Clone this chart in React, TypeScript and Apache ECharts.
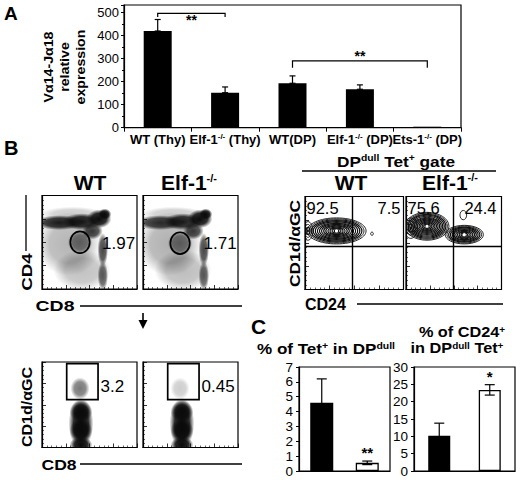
import React, { useEffect, useRef } from "react";
import * as echarts from "echarts";

// ---------- Panel A data ----------
const exprCategories = ["WT (Thy)", "Elf-1-/- (Thy)", "WT(DP)", "Elf-1-/- (DP)", "Ets-1-/- (DP)"];
const exprMeans = [420, 152, 193, 167, 2];
const exprErrors = [50, 25, 32, 19, 0];
const exprMax = 533;
const exprTickStep = 100;
// [fromIndex, toIndex, bracketTop, bracketFoot, starLevel, label]
const exprBrackets: [number, number, number, number, number, string][] = [
  [0, 1, 497, 481, 467, "**"],
  [2, 4, 290, 260, 313, "**"],
];

// ---------- Panel C data ----------
const groups = ["WT", "Elf-1-/-"];
const tetMeans = [4.6, 0.55];
const tetErrors = [1.6, 0.12];
const tetStars = ["", "**"];
const tetTicks = [0, 1, 2, 3, 4, 5, 6, 7];
const cd24Means = [10.2, 23.4];
const cd24Errors = [3.6, 1.5];
const cd24Stars = ["", "*"];
const cd24Ticks = [0, 5, 10, 15, 20, 25, 30];

// ---------- Panel B data (flow cytometry, 0-100 log display scale) ----------
// density blobs: [x, y, radiusX, radiusY, density]
const cd4cd8WT = [
  [28, 48, 34, 34, 0.3],
  [42, 20, 30, 22, 0.25],
  [32, 80, 34, 8, 0.2],
  [18, 71, 26, 8, 0.92],
  [42, 72, 20, 9, 0.95],
  [60, 75, 13, 10, 1],
  [66, 80, 7, 6, 1],
  [53, 62, 11, 9, 0.8],
  [40, 50, 13, 13, 0.55],
  [64, 42, 5.5, 18, 0.75],
  [64, 14, 5.5, 16, 0.65],
];
const cd4cd8Elf = [
  [28, 48, 34, 34, 0.32],
  [42, 20, 30, 22, 0.27],
  [32, 80, 34, 8, 0.2],
  [18, 71, 26, 8, 0.85],
  [42, 72, 20, 9, 0.92],
  [60, 75, 13, 10, 1],
  [66, 80, 7, 6, 1],
  [53, 62, 11, 9, 0.8],
  [39, 49, 13, 13, 0.55],
  [64, 42, 5.5, 18, 0.75],
  [64, 14, 5.5, 16, 0.65],
];
const tetCd8WT = [
  [41, 28, 13, 30, 1],
  [41, 42, 12, 13, 1],
  [41, 20, 12, 14, 1],
  [41, 3, 12, 10, 1],
  [40, 69, 10, 13, 0.55],
];
const tetCd8Elf = [
  [41, 28, 13, 30, 1],
  [41, 42, 12, 13, 1],
  [41, 20, 12, 14, 1],
  [41, 3, 12, 10, 1],
  [39, 69, 10, 13, 0.2],
];
// contours: [x, y, radiusX, radiusY, levels]
const contourWT = [
  [32, 63, 30, 14, 14],
  [3, 63, 5, 10, 4],
  [68, 60, 1.4, 1.7, 1],
];
const contourElf = [
  [22, 68, 23, 15, 14],
  [61, 59, 20, 10, 11],
  [5, 66, 7, 11, 4],
  [60, 80, 3.5, 5, 1],
];
// gates
const ellipseGateWT = [40, 50, 10.2, 11.7];
const ellipseGateElf = [39, 49, 10.2, 11.7];
const ellipseGatePct = ["1.97", "1.71"];
const rectGateWT = [26, 56, 59, 98];
const rectGateElf = [26, 56, 59, 98];
const rectGatePct = ["3.2", "0.45"];
const quadrantWT = [47.5, 47];
const quadrantElf = [49.4, 47];
const quadrantPctWT = ["92.5", "7.5"];
const quadrantPctElf = ["75.6", "24.4"];

const FONT = "'Liberation Sans', Arial, Helvetica, sans-serif";

const supRich = (size: number, lh: number | undefined) => ({
  s: { fontSize: size, fontWeight: "bold", fontFamily: FONT, verticalAlign: "top", fill: "#000", color: "#000", lineHeight: lh },
});

function txt(text: string, x: number, y: number, o: any = {}) {
  const { size = 14, weight = "bold", align = "center", valign = "middle", rotation = 0, scaleX = 1, sup = 9 } = o;
  return {
    type: "text",
    x,
    y,
    rotation,
    scaleX,
    z: 100,
    style: {
      text,
      fontSize: size,
      fontWeight: weight,
      fontFamily: FONT,
      fill: "#000",
      align,
      verticalAlign: valign,
      lineHeight: o.lineHeight,
      rich: supRich(sup, o.lineHeight),
    },
  };
}
function ln(x1: number, y1: number, x2: number, y2: number, w = 1.3) {
  return { type: "line", z: 100, shape: { x1, y1, x2, y2 }, style: { stroke: "#000", lineWidth: w } };
}
const supify = (s: string) => s.replace("-/-", "{s|-/-}");

const flowAxis = (gi: number) => ({
  gridIndex: gi,
  type: "value",
  min: 0,
  max: 100,
  interval: 25,
  axisLine: { show: true, lineStyle: { color: "#000", width: 1.2 } },
  axisTick: { show: true, inside: true, length: 4, lineStyle: { color: "#000", width: 0.8 } },
  minorTick: { show: true, splitNumber: 5, length: 2, lineStyle: { color: "#000", width: 0.6 } },
  axisLabel: { show: false },
  splitLine: { show: false },
});

const blobSeries = (gi: number, data: number[][]) => ({
  type: "custom",
  xAxisIndex: gi,
  yAxisIndex: gi,
  clip: true,
  silent: true,
  z: 2,
  data,
  renderItem: (_p: any, api: any) => {
    const c = api.coord([api.value(0), api.value(1)]);
    const s = api.size([api.value(2), api.value(3)]);
    const a = api.value(4);
    return {
      type: "circle",
      x: c[0],
      y: c[1],
      scaleX: s[0] / 10,
      scaleY: s[1] / 10,
      shape: { cx: 0, cy: 0, r: 10 },
      style: {
        fill: new echarts.graphic.RadialGradient(0.5, 0.5, 0.5, [
          { offset: 0, color: `rgba(10,10,10,${a})` },
          { offset: 0.6, color: `rgba(10,10,10,${a * 0.85})` },
          { offset: 1, color: "rgba(10,10,10,0)" },
        ]),
      },
    };
  },
});

const ellipseGateSeries = (gi: number, g: number[]) => ({
  type: "custom",
  xAxisIndex: gi,
  yAxisIndex: gi,
  silent: true,
  z: 5,
  data: [g],
  renderItem: (_p: any, api: any) => {
    const c = api.coord([api.value(0), api.value(1)]);
    const s = api.size([api.value(2), api.value(3)]);
    return {
      type: "ellipse",
      shape: { cx: c[0], cy: c[1], rx: s[0], ry: s[1] },
      style: { fill: "none", stroke: "#000", lineWidth: 1.7 },
    };
  },
});

const rectGateSeries = (gi: number, g: number[]) => ({
  type: "custom",
  xAxisIndex: gi,
  yAxisIndex: gi,
  silent: true,
  z: 5,
  data: [g],
  renderItem: (_p: any, api: any) => {
    const p1 = api.coord([api.value(0), api.value(3)]);
    const p2 = api.coord([api.value(2), api.value(1)]);
    return {
      type: "rect",
      shape: { x: p1[0], y: p1[1], width: p2[0] - p1[0], height: p2[1] - p1[1] },
      style: { fill: "none", stroke: "#000", lineWidth: 1.7 },
    };
  },
});

const contourSeries = (gi: number, data: number[][], q: number[]) => ({
  type: "custom",
  xAxisIndex: gi,
  yAxisIndex: gi,
  clip: true,
  silent: true,
  z: 3,
  data,
  renderItem: (_p: any, api: any) => {
    const c = api.coord([api.value(0), api.value(1)]);
    const s = api.size([api.value(2), api.value(3)]);
    const n = api.value(4);
    const children: any[] = [];
    for (let k = 0; k < n; k++) {
      const f = n === 1 ? 1 : 1 - 0.92 * (k / (n - 1));
      children.push({
        type: "ellipse",
        shape: { cx: c[0], cy: c[1], rx: s[0] * f, ry: s[1] * f },
        style: { fill: "none", stroke: "#111", lineWidth: k < 2 ? 0.9 : 1.2 },
      });
    }
    if (n > 4) {
      children.push({ type: "ellipse", shape: { cx: c[0], cy: c[1], rx: 1.6, ry: 1.6 }, style: { fill: "#fff" } });
    }
    return { type: "group", children };
  },
  markLine: {
    silent: true,
    symbol: "none",
    animation: false,
    label: { show: false },
    lineStyle: { color: "#000", type: "solid", width: 1.4 },
    data: [{ xAxis: q[0] }, { yAxis: q[1] }],
  },
});

const errorSeries = (gi: number, means: number[], errs: number[], stars: string[], twoSided: boolean, cap: number, starSize: number) => ({
  type: "custom",
  xAxisIndex: gi,
  yAxisIndex: gi,
  silent: true,
  z: 4,
  data: means.map((m, i) => [i, twoSided ? m - errs[i] : m, m + errs[i]]),
  renderItem: (p: any, api: any) => {
    const lo = api.coord([api.value(0), api.value(1)]);
    const hi = api.coord([api.value(0), api.value(2)]);
    const x = lo[0];
    const st = { stroke: "#000", lineWidth: 1.2 };
    const children: any[] = [];
    if (hi[1] < lo[1] - 0.5) {
      children.push({ type: "line", shape: { x1: x, y1: lo[1], x2: x, y2: hi[1] }, style: st });
      children.push({ type: "line", shape: { x1: x - cap, y1: hi[1], x2: x + cap, y2: hi[1] }, style: st });
      children.push({ type: "line", shape: { x1: x - cap, y1: lo[1], x2: x + cap, y2: lo[1] }, style: st });
    }
    const star = stars[p.dataIndex];
    if (star) {
      children.push({
        type: "text",
        style: {
          text: star,
          x,
          y: hi[1] - 1,
          align: "center",
          verticalAlign: "bottom",
          fontSize: starSize,
          fontWeight: "bold",
          fontFamily: FONT,
          fill: "#000",
        },
      });
    }
    return { type: "group", children };
  },
});

function buildOption() {
  const grids = [
    { left: 124, top: 5, width: 337, height: 122.7 }, // A
    { left: 42, top: 195.5, width: 95, height: 93.5 }, // B CD4/CD8 WT
    { left: 143, top: 195.5, width: 95, height: 93.5 }, // B CD4/CD8 Elf
    { left: 42, top: 362, width: 95, height: 85.5 }, // B Tet/CD8 WT
    { left: 143, top: 362, width: 95, height: 85.5 }, // B Tet/CD8 Elf
    { left: 305, top: 196.5, width: 98.5, height: 93 }, // B contour WT
    { left: 406, top: 196.5, width: 95.5, height: 93 }, // B contour Elf
    { left: 299, top: 367, width: 91, height: 104 }, // C left
    { left: 414, top: 367, width: 101, height: 104 }, // C right
  ].map((g) => ({ ...g, show: true, borderColor: "#000", borderWidth: 1.2, backgroundColor: "#fff" }));

  const cTickFont = { fontSize: 13.5, color: "#000", fontFamily: FONT, margin: 6 };

  const xAxis: any[] = [
    {
      gridIndex: 0,
      type: "category",
      data: exprCategories,
      axisLine: { lineStyle: { color: "#000", width: 1.2 } },
      axisTick: { show: true, alignWithLabel: false, length: 4, lineStyle: { color: "#000" } },
      axisLabel: {
        interval: 0,
        color: "#000",
        fontSize: 13,
        fontWeight: "bold",
        fontFamily: FONT,
        margin: 5,
        formatter: (v: string) => supify(v),
        rich: { s: { fontSize: 8, fontWeight: "bold", fontFamily: FONT, verticalAlign: "top", color: "#000" } },
      },
    },
    flowAxis(1),
    flowAxis(2),
    flowAxis(3),
    flowAxis(4),
    flowAxis(5),
    flowAxis(6),
    { gridIndex: 7, type: "category", data: groups, axisLine: { lineStyle: { color: "#000", width: 1.2 } }, axisTick: { show: false }, axisLabel: { show: false } },
    { gridIndex: 8, type: "category", data: groups, axisLine: { lineStyle: { color: "#000", width: 1.2 } }, axisTick: { show: false }, axisLabel: { show: false } },
  ];
  const yAxis: any[] = [
    {
      gridIndex: 0,
      type: "value",
      min: 0,
      max: exprMax,
      interval: exprTickStep,
      splitLine: { show: false },
      axisLine: { show: true, lineStyle: { color: "#000", width: 1.2 } },
      axisTick: { show: true, length: 3, lineStyle: { color: "#000" } },
      minorTick: { show: true, splitNumber: 2, length: 2, lineStyle: { color: "#000" } },
      axisLabel: {
        color: "#000",
        fontSize: 13,
        fontFamily: FONT,
        margin: 5,
        showMaxLabel: false,
        formatter: (v: number) => (v % exprTickStep === 0 ? String(v) : ""),
      },
    },
    flowAxis(1),
    flowAxis(2),
    flowAxis(3),
    flowAxis(4),
    flowAxis(5),
    flowAxis(6),
    {
      gridIndex: 7,
      type: "value",
      min: tetTicks[0],
      max: tetTicks[tetTicks.length - 1],
      interval: tetTicks[1] - tetTicks[0],
      splitLine: { show: false },
      axisLine: { show: true, lineStyle: { color: "#000", width: 1.2 } },
      axisTick: { show: true, length: 3, lineStyle: { color: "#000" } },
      axisLabel: cTickFont,
    },
    {
      gridIndex: 8,
      type: "value",
      min: cd24Ticks[0],
      max: cd24Ticks[cd24Ticks.length - 1],
      interval: cd24Ticks[1] - cd24Ticks[0],
      splitLine: { show: false },
      axisLine: { show: true, lineStyle: { color: "#000", width: 1.2 } },
      axisTick: { show: true, length: 3, lineStyle: { color: "#000" } },
      axisLabel: cTickFont,
    },
  ];

  const barFills = ["#000", "#fff"];
  const cBars = (vals: number[]) =>
    vals.map((v, i) => ({ value: v, itemStyle: { color: barFills[i], borderColor: "#000", borderWidth: 1.3 } }));

  const series: any[] = [
    {
      type: "bar",
      xAxisIndex: 0,
      yAxisIndex: 0,
      data: exprMeans,
      barWidth: 28,
      barMinHeight: 1,
      itemStyle: { color: "#000" },
      z: 2,
    },
    errorSeries(0, exprMeans, exprErrors, [], false, 3, 12),
    {
      type: "custom",
      xAxisIndex: 0,
      yAxisIndex: 0,
      silent: true,
      z: 5,
      data: exprBrackets.map((b) => [b[0], b[2]]),
      renderItem: (p: any, api: any) => {
        const b = exprBrackets[p.dataIndex];
        const a1 = api.coord([b[0], b[2]]);
        const a2 = api.coord([b[1], b[2]]);
        const foot = api.coord([b[0], b[3]]);
        const star = api.coord([b[0], b[4]]);
        return {
          type: "group",
          children: [
            {
              type: "polyline",
              shape: { points: [[a1[0], foot[1]], [a1[0], a1[1]], [a2[0], a2[1]], [a2[0], foot[1]]] },
              style: { fill: "none", stroke: "#000", lineWidth: 1.2 },
            },
            {
              type: "text",
              style: {
                text: b[5],
                x: (a1[0] + a2[0]) / 2,
                y: star[1],
                align: "center",
                verticalAlign: "middle",
                fontSize: 14,
                fontWeight: "bold",
                fontFamily: FONT,
                fill: "#000",
              },
            },
          ],
        };
      },
    },
    blobSeries(1, cd4cd8WT),
    blobSeries(2, cd4cd8Elf),
    blobSeries(3, tetCd8WT),
    blobSeries(4, tetCd8Elf),
    ellipseGateSeries(1, ellipseGateWT),
    ellipseGateSeries(2, ellipseGateElf),
    rectGateSeries(3, rectGateWT),
    rectGateSeries(4, rectGateElf),
    contourSeries(5, contourWT, quadrantWT),
    contourSeries(6, contourElf, quadrantElf),
    { type: "bar", xAxisIndex: 7, yAxisIndex: 7, data: cBars(tetMeans), barWidth: 23, z: 2 },
    errorSeries(7, tetMeans, tetErrors, tetStars, true, 5, 15),
    { type: "bar", xAxisIndex: 8, yAxisIndex: 8, data: cBars(cd24Means), barWidth: 22, z: 2 },
    errorSeries(8, cd24Means, cd24Errors, cd24Stars, true, 5, 15),
  ];

  const graphic: any[] = [
    // panel letters
    txt("A", 4, 13.5, { size: 19, align: "left" }),
    txt("B", 4, 148, { size: 20, align: "left" }),
    txt("C", 251, 326, { size: 21, align: "left" }),
    // panel A y-axis title
    txt("V\u03b114-J\u03b118\nrelative\nexpression", 64, 67, { size: 13.5, rotation: Math.PI / 2, lineHeight: 16, scaleX: 1.05 }),
    // panel B left titles
    txt("WT", 90, 182.5, { size: 21 }),
    txt(supify("Elf-1-/-"), 189, 182.5, { size: 21, sup: 11 }),
    // CD4 axis label with line
    txt("CD4", 27, 272, { size: 15, rotation: Math.PI / 2, scaleX: 1.25 }),
    ln(26, 195, 26, 251),
    txt("CD8", 55, 306, { size: 15, scaleX: 1.3 }),
    ln(80, 306, 242, 306),
    // arrow
    ln(143, 313, 143, 322, 1.6),
    { type: "polygon", z: 100, shape: { points: [[138.5, 320], [147.5, 320], [143, 329]] }, style: { fill: "#000" } },
    // lower row
    txt("CD1d/\u03b1GC", 27, 407, { size: 15, rotation: Math.PI / 2, scaleX: 1.07 }),
    txt("CD8", 59, 464, { size: 15, scaleX: 1.17 }),
    ln(80, 464, 242, 464),
    // gate percentages
    txt(ellipseGatePct[0], 102, 243.5, { size: 17, weight: "normal", align: "left" }),
    txt(ellipseGatePct[1], 203.5, 243.5, { size: 17, weight: "normal", align: "left" }),
    txt(rectGatePct[0], 100.5, 386.5, { size: 17, weight: "normal", align: "left" }),
    txt(rectGatePct[1], 201.5, 386.5, { size: 17, weight: "normal", align: "left" }),
    // contour panels
    txt("DP{s|dull} Tet{s|+} gate", 396, 161, { size: 15, scaleX: 1.15, sup: 9 }),
    ln(302, 171, 496, 171),
    txt("WT", 351, 182, { size: 21 }),
    txt(supify("Elf-1-/-"), 450, 182, { size: 21, sup: 11 }),
    txt("CD1d/\u03b1GC", 294, 243.5, { size: 15, rotation: Math.PI / 2, scaleX: 1.16 }),
    txt("CD24", 305, 304, { size: 16, align: "left" }),
    ln(357, 304, 503, 304),
    txt(quadrantPctWT[0], 306.5, 208, { size: 16.5, weight: "normal", align: "left" }),
    txt(quadrantPctWT[1], 400.5, 208, { size: 16.5, weight: "normal", align: "right" }),
    txt(quadrantPctElf[0], 407.5, 208, { size: 16.5, weight: "normal", align: "left" }),
    txt(quadrantPctElf[1], 496.5, 208, { size: 16.5, weight: "normal", align: "right" }),
    // panel C titles
    txt("% of Tet{s|+} in DP{s|dull}", 257, 348, { size: 15.5, align: "left", sup: 9.5, scaleX: 1.1, lineHeight: 15 }),
    txt("% of CD24{s|+}", 462, 332, { size: 15.5, sup: 9.5, scaleX: 1.05, lineHeight: 15 }),
    txt("in DP{s|dull} Tet{s|+}", 457, 348, { size: 15.5, sup: 9.5, scaleX: 1.05, lineHeight: 15 }),
  ];

  return {
    animation: false,
    backgroundColor: "#fff",
    textStyle: { fontFamily: FONT },
    grid: grids,
    xAxis,
    yAxis,
    series,
    graphic,
  };
}

export default function App() {
  const ref = useRef<HTMLDivElement>(null);
  useEffect(() => {
    document.body.style.margin = "0";
    if (!ref.current) return;
    const chart = echarts.init(ref.current, undefined, { renderer: "svg" });
    chart.setOption(buildOption() as any);
    return () => chart.dispose();
  }, []);
  return <div ref={ref} style={{ width: 520, height: 480 }} />;
}
